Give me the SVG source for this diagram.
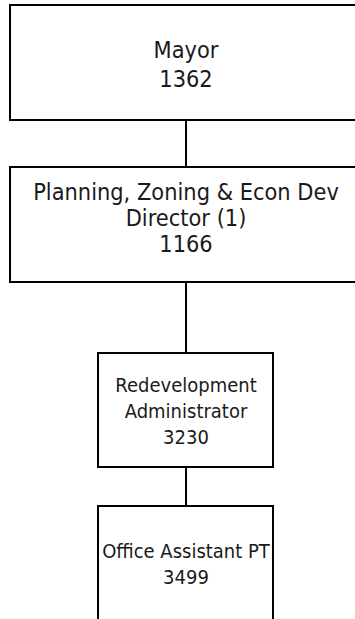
<svg xmlns="http://www.w3.org/2000/svg" width="355" height="619" viewBox="0 0 355 619">
<style>
.box{fill:#fff;stroke:#000;stroke-width:2}
.c{stroke:#000;stroke-width:2;fill:none}
.t{font-family:"DejaVu Sans","Liberation Sans",sans-serif;fill:#1a1a1a;text-anchor:middle}
.big{font-size:23px}
.sm{font-size:19.5px}
</style>
<rect width="355" height="619" fill="#fff"/>
<g id="connectors">
<line class="c" x1="186" y1="120" x2="186" y2="167"/>
<line class="c" x1="186" y1="282" x2="186" y2="353"/>
<line class="c" x1="186" y1="467" x2="186" y2="506"/>
</g>
<g id="mayor">
<rect class="box" x="10" y="5" width="352" height="115"/>
<g transform="translate(186,0) scale(0.913,1)">
<text class="t big" x="0" y="58">Mayor</text>
<text class="t big" x="0" y="87">1362</text>
</g>
</g>
<g id="director">
<rect class="box" x="10" y="167" width="352" height="115"/>
<g transform="translate(186,0) scale(0.913,1)">
<text class="t big" x="0" y="200.5">Planning, Zoning &amp; Econ Dev</text>
<text class="t big" x="0" y="226">Director (1)</text>
<text class="t big" x="0" y="252">1166</text>
</g>
</g>
<g id="redevelopment">
<rect class="box" x="98" y="353" width="175" height="114"/>
<g transform="translate(186,0) scale(0.923,1)">
<text class="t sm" x="0" y="392">Redevelopment</text>
<text class="t sm" x="0" y="418">Administrator</text>
<text class="t sm" x="0" y="444">3230</text>
</g>
</g>
<g id="office-assistant">
<rect class="box" x="98" y="506" width="175" height="200"/>
<g transform="translate(186,0) scale(0.923,1)">
<text class="t sm" x="0" y="558">Office Assistant PT</text>
<text class="t sm" x="0" y="584">3499</text>
</g>
</g>
</svg>
